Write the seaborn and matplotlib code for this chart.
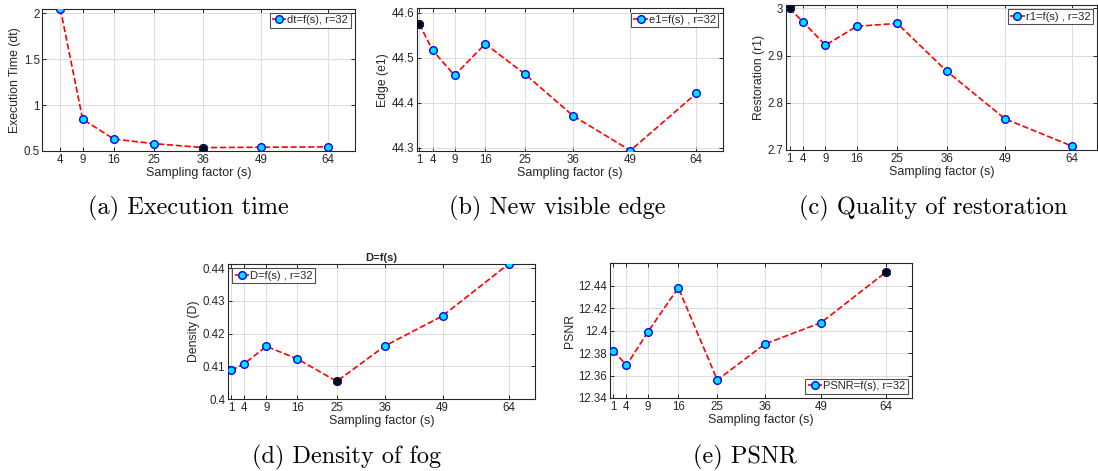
import numpy as np
import pandas as pd
import matplotlib
matplotlib.use("Agg")
import matplotlib.pyplot as plt
import seaborn as sns
from matplotlib.ticker import FuncFormatter

# Sampling factors
s_time = [4, 9, 16, 25, 36, 49, 64]
s_all = [1, 4, 9, 16, 25, 36, 49, 64]

# Measured quantities (r = 32)
dt_vals = [2.05, 0.845, 0.63, 0.58, 0.537, 0.541, 0.545]
edge_vals = [44.575, 44.517, 44.461, 44.531, 44.464, 44.371, 44.294, 44.421]
restor_vals = [3.0, 2.971, 2.922, 2.962, 2.968, 2.867, 2.766, 2.708]
density_vals = [0.4088, 0.4108, 0.4161, 0.4123, 0.4054, 0.4163, 0.4254, 0.4413]
psnr_vals = [12.382, 12.369, 12.399, 12.438, 12.356, 12.388, 12.407, 12.452]

sns.set_theme(style="ticks")
plt.rcParams["font.family"] = ["Liberation Sans", "DejaVu Sans"]

W, H = 1098, 471
fig = plt.figure(figsize=(W / 100, H / 100), dpi=100)

DARK = "#262626"


def add_axes_px(left, top, right, bottom):
    return fig.add_axes([left / W, 1 - bottom / H, (right - left) / W, (bottom - top) / H])


def panel(ax, x, y, label, ylabel, xticks, yticks, xlim, ylim, extreme, legend_loc, caption, cap_xy, title=None):
    df = pd.DataFrame({"s": x, "v": y})
    sns.lineplot(data=df, x="s", y="v", ax=ax, color="red", linestyle="--", linewidth=1.2,
                 marker="o", markersize=5.5, markerfacecolor="#00e5ff", markeredgecolor="#0000ff",
                 markeredgewidth=1.0, label=label, zorder=3)
    idx = int(np.argmin(y)) if extreme == "min" else int(np.argmax(y))
    ax.plot([x[idx]], [y[idx]], marker="o", markersize=5.5, markerfacecolor="#10206a",
            markeredgecolor="#10206a", linestyle="none", zorder=4)
    ax.plot([x[idx]], [y[idx]], marker=(6, 2, 0), markersize=6, color="black",
            markeredgewidth=1.0, linestyle="none", zorder=5)
    ax.set_xlim(*xlim)
    ax.set_ylim(*ylim)
    ax.set_xticks(xticks)
    ax.set_yticks(yticks)
    ax.yaxis.set_major_formatter(FuncFormatter(lambda v, p: f"{v:g}"))
    ax.set_xlabel("Sampling factor (s)", fontsize=9, color=DARK, labelpad=1)
    ax.set_ylabel(ylabel, fontsize=8.8, color=DARK, labelpad=2)
    ax.tick_params(direction="in", top=True, right=True, length=3, width=0.7,
                   colors=DARK, labelsize=8.3, pad=2)
    ax.grid(True, color="#dcdcdc", linewidth=0.7)
    ax.set_axisbelow(True)
    for sp in ax.spines.values():
        sp.set_color(DARK)
        sp.set_linewidth(0.8)
    leg = ax.legend(loc=legend_loc, fontsize=8, frameon=True, fancybox=False,
                    handlelength=1.3, handletextpad=0.1, borderpad=0.2,
                    borderaxespad=0.4, edgecolor=DARK)
    leg.get_frame().set_linewidth(0.8)
    if title:
        ax.set_title(title, fontsize=8, fontweight="bold", pad=2)
    fig.text(cap_xy[0] / W, 1 - cap_xy[1] / H, caption, ha="center", va="center",
             fontsize=17.5, family=["cmr10", "DejaVu Serif"], color="black")


ax_a = add_axes_px(42.5, 8.7, 355, 151)
panel(ax_a, s_time, dt_vals, "dt=f(s), r=32", "Execution Time (dt)", s_time,
      [0.5, 1, 1.5, 2], (0, 70), (0.5, 2.05), "min", "upper right",
      "(a) Execution time", (188, 208))

ax_b = add_axes_px(416.7, 8.3, 722.7, 151)
panel(ax_b, s_all, edge_vals, "e1=f(s) , r=32", "Edge (e1)", s_all,
      [44.3, 44.4, 44.5, 44.6], (0.4, 70), (44.293, 44.61), "max", "upper right",
      "(b) New visible edge", (557, 208))

ax_c = add_axes_px(786, 5, 1097, 150)
panel(ax_c, s_all, restor_vals, "r1=f(s) , r=32", "Restoration (r1)", s_all,
      [2.7, 2.8, 2.9, 3.0], (0.2, 69.5), (2.7, 3.007), "max", "upper right",
      "(c) Quality of restoration", (933, 208))

ax_d = add_axes_px(228, 264, 535, 399)
panel(ax_d, s_all, density_vals, "D=f(s) , r=32", "Density (D)", s_all,
      [0.40, 0.41, 0.42, 0.43, 0.44], (0.3, 70), (0.40, 0.4413), "min", "upper left",
      "(d) Density of fog", (347, 457), title="D=f(s)")

ax_e = add_axes_px(610, 263, 912, 398)
panel(ax_e, s_all, psnr_vals, "PSNR=f(s), r=32", "PSNR", s_all,
      [12.34, 12.36, 12.38, 12.40, 12.42, 12.44], (0.2, 70), (12.34, 12.46), "max", "lower right",
      "(e) PSNR", (745, 457))

fig.savefig("out.png", dpi=100)
